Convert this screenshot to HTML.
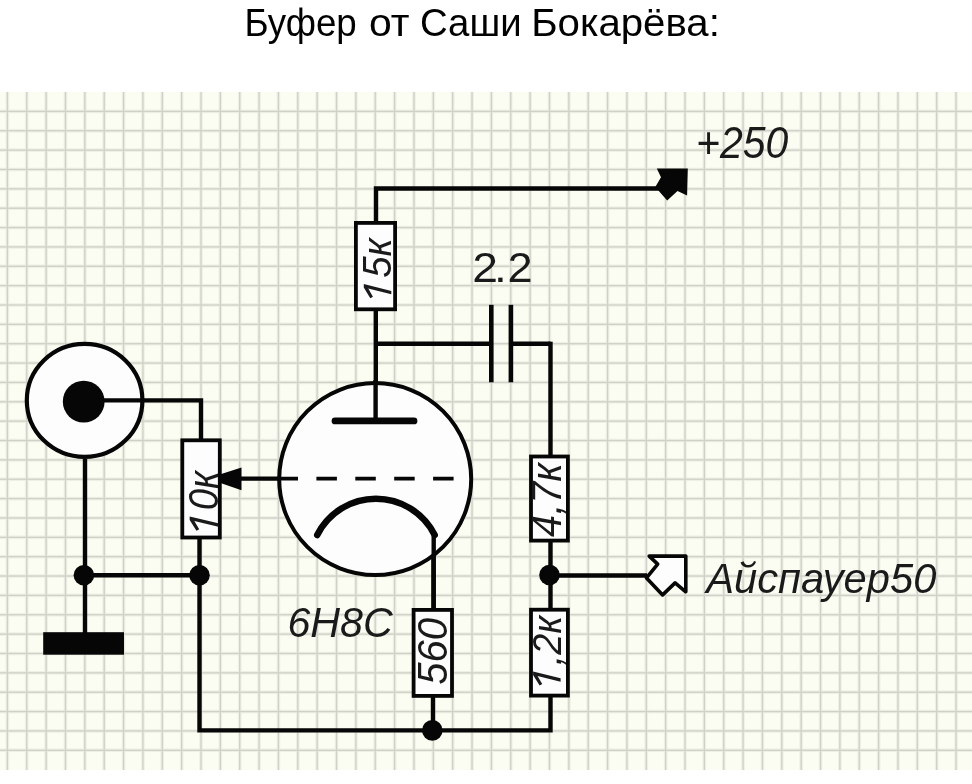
<!DOCTYPE html>
<html><head><meta charset="utf-8">
<style>
html,body{margin:0;padding:0;background:#fff;width:972px;height:784px;overflow:hidden;}
#dg{position:absolute;left:0;top:92px;width:972px;height:678px;overflow:hidden;}
#dg svg{position:absolute;left:0;top:-92px;}
#tt,#fg{position:absolute;left:0;top:0;will-change:transform;}
</style></head><body>
<div id="dg">
<svg width="972" height="784" viewBox="0 0 972 784">
<rect x="0" y="92" width="972" height="678" fill="#fbfcf2"/>
<g fill="#d3d4cb">
<g fill="#eef0e5">
<rect x="5.60" y="92" width="3.6" height="678"/>
<rect x="24.96" y="92" width="3.6" height="678"/>
<rect x="44.32" y="92" width="3.6" height="678"/>
<rect x="63.68" y="92" width="3.6" height="678"/>
<rect x="83.04" y="92" width="3.6" height="678"/>
<rect x="102.40" y="92" width="3.6" height="678"/>
<rect x="121.76" y="92" width="3.6" height="678"/>
<rect x="141.12" y="92" width="3.6" height="678"/>
<rect x="160.48" y="92" width="3.6" height="678"/>
<rect x="179.84" y="92" width="3.6" height="678"/>
<rect x="199.20" y="92" width="3.6" height="678"/>
<rect x="218.56" y="92" width="3.6" height="678"/>
<rect x="237.92" y="92" width="3.6" height="678"/>
<rect x="257.28" y="92" width="3.6" height="678"/>
<rect x="276.64" y="92" width="3.6" height="678"/>
<rect x="296.00" y="92" width="3.6" height="678"/>
<rect x="315.36" y="92" width="3.6" height="678"/>
<rect x="334.72" y="92" width="3.6" height="678"/>
<rect x="354.08" y="92" width="3.6" height="678"/>
<rect x="373.44" y="92" width="3.6" height="678"/>
<rect x="392.80" y="92" width="3.6" height="678"/>
<rect x="412.16" y="92" width="3.6" height="678"/>
<rect x="431.52" y="92" width="3.6" height="678"/>
<rect x="450.88" y="92" width="3.6" height="678"/>
<rect x="470.24" y="92" width="3.6" height="678"/>
<rect x="489.60" y="92" width="3.6" height="678"/>
<rect x="508.96" y="92" width="3.6" height="678"/>
<rect x="528.32" y="92" width="3.6" height="678"/>
<rect x="547.68" y="92" width="3.6" height="678"/>
<rect x="567.04" y="92" width="3.6" height="678"/>
<rect x="586.40" y="92" width="3.6" height="678"/>
<rect x="605.76" y="92" width="3.6" height="678"/>
<rect x="625.12" y="92" width="3.6" height="678"/>
<rect x="644.48" y="92" width="3.6" height="678"/>
<rect x="663.84" y="92" width="3.6" height="678"/>
<rect x="683.20" y="92" width="3.6" height="678"/>
<rect x="702.56" y="92" width="3.6" height="678"/>
<rect x="721.92" y="92" width="3.6" height="678"/>
<rect x="741.28" y="92" width="3.6" height="678"/>
<rect x="760.64" y="92" width="3.6" height="678"/>
<rect x="780.00" y="92" width="3.6" height="678"/>
<rect x="799.36" y="92" width="3.6" height="678"/>
<rect x="818.72" y="92" width="3.6" height="678"/>
<rect x="838.08" y="92" width="3.6" height="678"/>
<rect x="857.44" y="92" width="3.6" height="678"/>
<rect x="876.80" y="92" width="3.6" height="678"/>
<rect x="896.16" y="92" width="3.6" height="678"/>
<rect x="915.52" y="92" width="3.6" height="678"/>
<rect x="934.88" y="92" width="3.6" height="678"/>
<rect x="954.24" y="92" width="3.6" height="678"/>
<rect x="0" y="109.60" width="972" height="3.6"/>
<rect x="0" y="128.96" width="972" height="3.6"/>
<rect x="0" y="148.32" width="972" height="3.6"/>
<rect x="0" y="167.68" width="972" height="3.6"/>
<rect x="0" y="187.04" width="972" height="3.6"/>
<rect x="0" y="206.40" width="972" height="3.6"/>
<rect x="0" y="225.76" width="972" height="3.6"/>
<rect x="0" y="245.12" width="972" height="3.6"/>
<rect x="0" y="264.48" width="972" height="3.6"/>
<rect x="0" y="283.84" width="972" height="3.6"/>
<rect x="0" y="303.20" width="972" height="3.6"/>
<rect x="0" y="322.56" width="972" height="3.6"/>
<rect x="0" y="341.92" width="972" height="3.6"/>
<rect x="0" y="361.28" width="972" height="3.6"/>
<rect x="0" y="380.64" width="972" height="3.6"/>
<rect x="0" y="400.00" width="972" height="3.6"/>
<rect x="0" y="419.36" width="972" height="3.6"/>
<rect x="0" y="438.72" width="972" height="3.6"/>
<rect x="0" y="458.08" width="972" height="3.6"/>
<rect x="0" y="477.44" width="972" height="3.6"/>
<rect x="0" y="496.80" width="972" height="3.6"/>
<rect x="0" y="516.16" width="972" height="3.6"/>
<rect x="0" y="535.52" width="972" height="3.6"/>
<rect x="0" y="554.88" width="972" height="3.6"/>
<rect x="0" y="574.24" width="972" height="3.6"/>
<rect x="0" y="593.60" width="972" height="3.6"/>
<rect x="0" y="612.96" width="972" height="3.6"/>
<rect x="0" y="632.32" width="972" height="3.6"/>
<rect x="0" y="651.68" width="972" height="3.6"/>
<rect x="0" y="671.04" width="972" height="3.6"/>
<rect x="0" y="690.40" width="972" height="3.6"/>
<rect x="0" y="709.76" width="972" height="3.6"/>
<rect x="0" y="729.12" width="972" height="3.6"/>
<rect x="0" y="748.48" width="972" height="3.6"/>
</g>
<g fill="#cfd0c7">
<rect x="6.75" y="92" width="1.3" height="678"/>
<rect x="26.11" y="92" width="1.3" height="678"/>
<rect x="45.47" y="92" width="1.3" height="678"/>
<rect x="64.83" y="92" width="1.3" height="678"/>
<rect x="84.19" y="92" width="1.3" height="678"/>
<rect x="103.55" y="92" width="1.3" height="678"/>
<rect x="122.91" y="92" width="1.3" height="678"/>
<rect x="142.27" y="92" width="1.3" height="678"/>
<rect x="161.63" y="92" width="1.3" height="678"/>
<rect x="180.99" y="92" width="1.3" height="678"/>
<rect x="200.35" y="92" width="1.3" height="678"/>
<rect x="219.71" y="92" width="1.3" height="678"/>
<rect x="239.07" y="92" width="1.3" height="678"/>
<rect x="258.43" y="92" width="1.3" height="678"/>
<rect x="277.79" y="92" width="1.3" height="678"/>
<rect x="297.15" y="92" width="1.3" height="678"/>
<rect x="316.51" y="92" width="1.3" height="678"/>
<rect x="335.87" y="92" width="1.3" height="678"/>
<rect x="355.23" y="92" width="1.3" height="678"/>
<rect x="374.59" y="92" width="1.3" height="678"/>
<rect x="393.95" y="92" width="1.3" height="678"/>
<rect x="413.31" y="92" width="1.3" height="678"/>
<rect x="432.67" y="92" width="1.3" height="678"/>
<rect x="452.03" y="92" width="1.3" height="678"/>
<rect x="471.39" y="92" width="1.3" height="678"/>
<rect x="490.75" y="92" width="1.3" height="678"/>
<rect x="510.11" y="92" width="1.3" height="678"/>
<rect x="529.47" y="92" width="1.3" height="678"/>
<rect x="548.83" y="92" width="1.3" height="678"/>
<rect x="568.19" y="92" width="1.3" height="678"/>
<rect x="587.55" y="92" width="1.3" height="678"/>
<rect x="606.91" y="92" width="1.3" height="678"/>
<rect x="626.27" y="92" width="1.3" height="678"/>
<rect x="645.63" y="92" width="1.3" height="678"/>
<rect x="664.99" y="92" width="1.3" height="678"/>
<rect x="684.35" y="92" width="1.3" height="678"/>
<rect x="703.71" y="92" width="1.3" height="678"/>
<rect x="723.07" y="92" width="1.3" height="678"/>
<rect x="742.43" y="92" width="1.3" height="678"/>
<rect x="761.79" y="92" width="1.3" height="678"/>
<rect x="781.15" y="92" width="1.3" height="678"/>
<rect x="800.51" y="92" width="1.3" height="678"/>
<rect x="819.87" y="92" width="1.3" height="678"/>
<rect x="839.23" y="92" width="1.3" height="678"/>
<rect x="858.59" y="92" width="1.3" height="678"/>
<rect x="877.95" y="92" width="1.3" height="678"/>
<rect x="897.31" y="92" width="1.3" height="678"/>
<rect x="916.67" y="92" width="1.3" height="678"/>
<rect x="936.03" y="92" width="1.3" height="678"/>
<rect x="955.39" y="92" width="1.3" height="678"/>
<rect x="0" y="110.75" width="972" height="1.3"/>
<rect x="0" y="130.11" width="972" height="1.3"/>
<rect x="0" y="149.47" width="972" height="1.3"/>
<rect x="0" y="168.83" width="972" height="1.3"/>
<rect x="0" y="188.19" width="972" height="1.3"/>
<rect x="0" y="207.55" width="972" height="1.3"/>
<rect x="0" y="226.91" width="972" height="1.3"/>
<rect x="0" y="246.27" width="972" height="1.3"/>
<rect x="0" y="265.63" width="972" height="1.3"/>
<rect x="0" y="284.99" width="972" height="1.3"/>
<rect x="0" y="304.35" width="972" height="1.3"/>
<rect x="0" y="323.71" width="972" height="1.3"/>
<rect x="0" y="343.07" width="972" height="1.3"/>
<rect x="0" y="362.43" width="972" height="1.3"/>
<rect x="0" y="381.79" width="972" height="1.3"/>
<rect x="0" y="401.15" width="972" height="1.3"/>
<rect x="0" y="420.51" width="972" height="1.3"/>
<rect x="0" y="439.87" width="972" height="1.3"/>
<rect x="0" y="459.23" width="972" height="1.3"/>
<rect x="0" y="478.59" width="972" height="1.3"/>
<rect x="0" y="497.95" width="972" height="1.3"/>
<rect x="0" y="517.31" width="972" height="1.3"/>
<rect x="0" y="536.67" width="972" height="1.3"/>
<rect x="0" y="556.03" width="972" height="1.3"/>
<rect x="0" y="575.39" width="972" height="1.3"/>
<rect x="0" y="594.75" width="972" height="1.3"/>
<rect x="0" y="614.11" width="972" height="1.3"/>
<rect x="0" y="633.47" width="972" height="1.3"/>
<rect x="0" y="652.83" width="972" height="1.3"/>
<rect x="0" y="672.19" width="972" height="1.3"/>
<rect x="0" y="691.55" width="972" height="1.3"/>
<rect x="0" y="710.91" width="972" height="1.3"/>
<rect x="0" y="730.27" width="972" height="1.3"/>
<rect x="0" y="749.63" width="972" height="1.3"/>
</g>
</g>
</svg>
</div>
<svg id="fg" width="972" height="784" viewBox="0 0 972 784" font-family="Liberation Sans, sans-serif">
<g stroke="#060606" fill="#060606">
<path d="M376 221 V188.5 H660" fill="none" stroke-width="4.4"/>
<line x1="375.8" y1="311" x2="375.8" y2="421" stroke-width="4.4"/>
<line x1="376" y1="343.7" x2="491" y2="343.7" stroke-width="4.4"/>
<line x1="510.9" y1="343.7" x2="550.5" y2="343.7" stroke-width="4.4"/>
<line x1="550.5" y1="341.7" x2="550.5" y2="455" stroke-width="4.4"/>
<line x1="550.5" y1="542" x2="550.5" y2="608" stroke-width="4.4"/>
<line x1="550.5" y1="575.5" x2="647" y2="575.5" stroke-width="4.4"/>
<path d="M550.5 697 V730.4 H199.5 V539" fill="none" stroke-width="4.4"/>
<line x1="433" y1="697" x2="433" y2="730.4" stroke-width="4.4"/>
<line x1="433.5" y1="530" x2="433.5" y2="608" stroke-width="4.4"/>
<path d="M84 400.4 H201 V439" fill="none" stroke-width="4.4"/>
<line x1="84" y1="575.3" x2="200" y2="575.3" stroke-width="4.4"/>
<line x1="85" y1="459" x2="85" y2="633" stroke-width="4.4"/>
<line x1="241" y1="478.6" x2="278" y2="478.6" stroke-width="4.2"/>
<line x1="491.3" y1="304.8" x2="491.3" y2="382.3" stroke-width="4.6"/>
<line x1="510.9" y1="304.8" x2="510.9" y2="382.3" stroke-width="4.6"/>
<rect x="355.90" y="222.90" width="39.20" height="86.40" fill="#fdfdfd" stroke-width="3.8"/>
<rect x="531.00" y="456.50" width="36.90" height="84.10" fill="#fdfdfd" stroke-width="3.8"/>
<rect x="531.00" y="609.70" width="36.90" height="85.90" fill="#fdfdfd" stroke-width="3.8"/>
<rect x="413.60" y="609.90" width="38.40" height="86.00" fill="#fdfdfd" stroke-width="3.8"/>
<rect x="182.30" y="440.30" width="37.50" height="97.20" fill="#fdfdfd" stroke-width="3.8"/>
<circle cx="375.2" cy="479.05" r="96" fill="#fdfdfd" stroke-width="4"/>
<line x1="375.6" y1="380" x2="375.6" y2="421" stroke-width="4.4"/>
<line x1="335" y1="420.9" x2="414" y2="420.9" stroke-width="6.8" stroke-linecap="round"/>
<line x1="277.5" y1="478.6" x2="454" y2="478.6" stroke-width="3.6" stroke-dasharray="20.5 18.4"/>
<path d="M317.2 535 A65.7 65.7 0 0 1 434.7 535" fill="none" stroke-width="6.5" stroke-linecap="round"/>
<line x1="433.7" y1="532" x2="433.7" y2="608" stroke-width="4.4"/>
<ellipse cx="84.6" cy="400.4" rx="57.8" ry="56.5" fill="#fdfdfd" stroke-width="4.2"/>
<circle cx="83.7" cy="401.6" r="20.9" stroke="none"/>
<line x1="84" y1="400.4" x2="142" y2="400.4" stroke-width="4.4"/>
<rect x="43.2" y="632.2" width="80.8" height="22.5" stroke="none"/>
<circle cx="549.5" cy="575" r="10.3" stroke="none"/>
<circle cx="432.3" cy="730.4" r="10.3" stroke="none"/>
<circle cx="83.9" cy="575.3" r="10.3" stroke="none"/>
<circle cx="199.5" cy="575.3" r="10.3" stroke="none"/>
<path d="M220.5 474.3 L241.5 467.6 L241.5 490.3 L220.5 483 Z" stroke="none"/>
<path d="M656.8 168.4 L687.8 168.4 L687.1 195.6 L677.5 191 L667.2 200.5 L655.3 187.1 L661 177.2 Z" stroke="none"/>
<path d="M649.2 556.1 L685.8 556.1 L685.8 591.8 L675.1 582.9 L662.6 594.9 L646.5 577.9 L657.7 564.1 Z" fill="#fdfdfd" stroke-width="3.6" stroke-linejoin="round"/>
</g>
<g fill="#1a1a1a">
<text transform="translate(696.0 158.2) scale(0.410 0.439)" font-style="italic" font-size="100">+250</text>
<text transform="translate(472.3 282.4) scale(0.463 0.424)" font-size="100">2</text>
<text transform="translate(494.0 282.4) scale(0.46 0.40)" font-size="100">.</text>
<text transform="translate(507.5 282.4) scale(0.452 0.424)" font-size="100">2</text>
<text transform="translate(706.2 592.8) scale(0.417 0.430)" font-style="italic" font-size="100">Айспауер50</text>
<text transform="translate(287.4 636.6) scale(0.412 0.427)" font-style="italic" font-size="100">6Н8С</text>
<g transform="translate(391.3 299.2) rotate(-90) scale(0.385 0.40)"><path transform="scale(0.04883 -0.04883)" d="M260 0H440L802 1409H622L50 1075L130 940L563 1180Z"/><text x="55.62" y="0" font-style="italic" font-size="100">5к</text></g>
<text transform="translate(561 536.9) rotate(-90) scale(0.397 0.42)" font-style="italic" font-size="100">4,7к</text>
<g transform="translate(560.6 686.5) rotate(-90) scale(0.380 0.40)"><path transform="scale(0.04883 -0.04883)" d="M260 0H440L802 1409H622L50 1075L130 940L563 1180Z"/><text x="55.62" y="0" font-style="italic" font-size="100">,2к</text></g>
<text transform="translate(446.9 684.8) rotate(-90) scale(0.401 0.421)" font-style="italic" font-size="100">560</text>
<g transform="translate(218.3 531.6) rotate(-90) scale(0.384 0.416)"><path transform="scale(0.04883 -0.04883)" d="M260 0H440L802 1409H622L50 1075L130 940L563 1180Z"/><text x="55.62" y="0" font-style="italic" font-size="100">0к</text></g>
</g>
</svg>
<svg id="tt" width="972" height="60" viewBox="0 0 972 60" font-family="Liberation Sans, sans-serif">
<g font-size="50" fill="#000">
<text transform="translate(244.5 36) scale(0.7347 0.790)">Буфер</text>
<text transform="translate(368.9 36) scale(0.817 0.790)">от</text>
<text transform="translate(420.0 36) scale(0.767 0.790)">Саши</text>
<text transform="translate(531.2 36) scale(0.804 0.790)">Бокарёва:</text>
</g>
</svg>
</body></html>
